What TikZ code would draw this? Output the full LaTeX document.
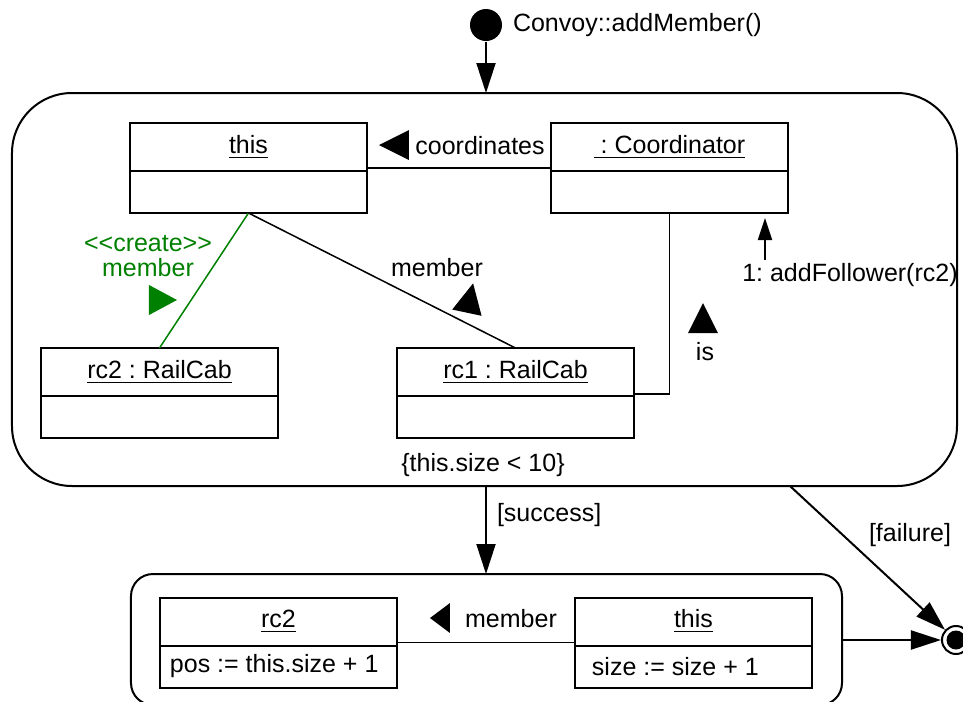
\documentclass[tikz,border=0pt]{standalone}
\usepackage{fontspec}
\setmainfont{Liberation Sans}
\usetikzlibrary{positioning,arrows.meta}
\frenchspacing

\tikzset{
  every node/.style={font=\fontsize{10}{12}\selectfont},
  objhead/.style={draw, line width=0.8pt, minimum width=94.8pt, minimum height=19.2pt, inner sep=0pt, outer sep=0pt},
  objbody/.style={draw, line width=0.8pt, minimum width=94.8pt, minimum height=16.8pt, inner sep=0pt, outer sep=0pt},
  statebox/.style={draw, line width=0.8pt, inner sep=0pt, outer sep=0pt},
  initdot/.style={circle, fill, minimum size=12.8pt, inner sep=0pt},
  finaldot/.style={circle, draw, line width=0.8pt, minimum size=11.2pt, inner sep=0pt,
    path picture={\fill (path picture bounding box.center) circle (3.8pt);}},
  link/.style={line width=0.6pt},
  trans/.style={line width=0.8pt, -{Triangle[length=12pt,width=7.6pt]}},
  callarrow/.style={line width=0.8pt, -{Triangle[length=8.8pt,width=5.6pt]}},
  lbl/.style={inner sep=1pt},
  pics/dirmark/.style={code={\fill (-#1/2,-15) -- (#1/2,0) -- (-#1/2,15) -- cycle;}},
}

\begin{document}
\begin{tikzpicture}[x=0.4pt, y=-0.4pt]
  \useasboundingbox (0,0) rectangle (963,702);

  % start of the operation
  \node[initdot] (init) at (486,25) {};
  \node[lbl, anchor=west] (opName) at (510,25) {Convoy::addMember()};

  % first activity with its story pattern
  \node[statebox, rounded corners=24pt, minimum width=378pt, minimum height=157.2pt] (addState) at (484.5,289.5) {};

  \node[objhead] (thisH) at (248.5,147) {\underline{this}};
  \node[objbody, below=0pt of thisH] (thisB) {};
  \node[objhead] (coordH) at (669.5,147) {\underline{~: Coordinator}};
  \node[objbody, below=0pt of coordH] (coordB) {};
  \node[objhead] (rcTwoH) at (159.5,372) {\underline{rc2 : RailCab}};
  \node[objbody, below=0pt of rcTwoH] (rcTwoB) {};
  \node[objhead] (rcOneH) at (515.5,372) {\underline{rc1 : RailCab}};
  \node[objbody, below=0pt of rcOneH] (rcOneB) {};

  % links
  \draw[link] ([yshift=1.2pt]thisH.south east) -- ([yshift=1.2pt]coordH.south west);
  \draw[link, green!50!black] (thisB.south) -- (rcTwoH.north);
  \draw[link] (thisB.south) -- (rcOneH.north);
  \draw[link] (coordB.south) |- ([yshift=0.8pt]rcOneH.south east);

  % link labels
  \node[lbl] (coordLbl) at (480,146) {coordinates};
  \pic[rotate=180] at (394,145) {dirmark=30};
  \node[lbl, green!50!black, align=center, font=\fontsize{10}{10}\selectfont] (createLbl) at (148,256) {<\kern0pt<create>\kern0pt>\\member};
  \pic[green!50!black] at (163,300) {dirmark=28};
  \node[lbl] (memberLbl) at (437,268) {member};
  \pic[rotate=78] at (470,298) {dirmark=30};
  \node[lbl] (isLbl) at (705,352) {is};
  \pic[rotate=90] at (703,318) {dirmark=30};

  % method call on the coordinator
  \coordinate (callTip) at (765,218);
  \node[lbl] (callLbl) at (850,275) {1: addFollower(rc2)};
  \draw[callarrow] (callLbl.north -| callTip) -- (callTip);

  \node[lbl] (guard) at (483,465) {\{this.size < 10\}};

  % second activity
  \node[statebox, rounded corners=8.8pt, minimum width=284.4pt, minimum height=52.4pt] (doneState) at (486.5,639.5) {};

  \node[objhead] (posH) at (278.5,621.5) {\underline{rc2}};
  \node[objbody, below=0pt of posH] (posB) {};
  \node[lbl, anchor=west] (posAttr) at ([xshift=2.8pt]posB.west) {pos := this.size + 1};
  \node[objhead] (sizeH) at (693.5,621.5) {\underline{this}};
  \node[objbody, below=0pt of sizeH] (sizeB) {};
  \node[lbl, anchor=west] (sizeAttr) at ([xshift=5.6pt]sizeB.west) {size := size + 1};

  \draw[link] ([yshift=1.2pt]posH.south east) -- ([yshift=1.2pt]sizeH.south west);
  \node[lbl] (memberLbl2) at (511,619) {member};
  \pic[rotate=180] at (440,618) {dirmark=20};

  % end of the operation
  \node[finaldot] (final) at (956,640) {};

  % transitions
  \draw[trans] (init) -- (init |- addState.north);
  \draw[trans] (addState.south -| init) -- (doneState.north -| init);
  \node[lbl, anchor=west] (successLbl) at (494,515) {[success]};
  \draw[trans] ([xshift=122.2pt]addState.south) -- (final);
  \node[lbl] (failureLbl) at (910,535) {[failure]};
  \draw[trans] (doneState.east |- final) -- (final);
\end{tikzpicture}
\end{document}
